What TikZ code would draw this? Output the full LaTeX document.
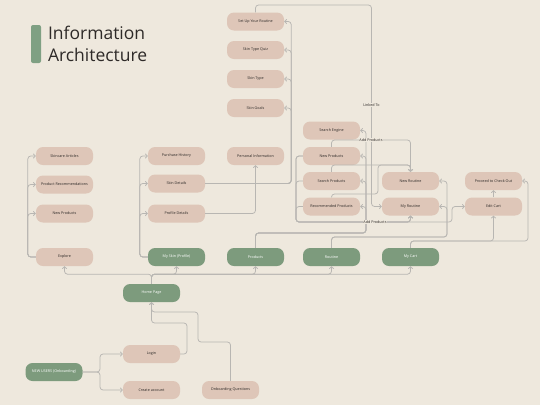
\documentclass[tikz,border=0pt]{standalone}
\usepackage{fontspec}
\setmainfont{Open Sans}
\usetikzlibrary{arrows.meta}
\definecolor{bgc}{HTML}{EEE8DD}
\definecolor{pinkc}{HTML}{DEC6B8}
\definecolor{greenc}{HTML}{7D9B7D}
\definecolor{barc}{HTML}{7FA083}
\definecolor{linec}{HTML}{B8B6B2}
\definecolor{txtc}{HTML}{2E2A28}
\tikzset{
  box/.style={rounded corners=7pt, minimum width=57pt, minimum height=18pt, inner sep=0pt,
    fill=pinkc, text=txtc, font=\fontsize{3.7}{4.4}\selectfont},
  gbox/.style={box, fill=greenc, text=white},
  conn/.style={draw=linec, line width=0.75pt, rounded corners=3pt,
    -{Straight Barb[length=2pt,width=4.5pt]}},
  lab/.style={fill=bgc, inner sep=0.8pt, text=txtc, font=\fontsize{3.7}{4.4}\selectfont},
  ttl/.style={anchor=base west, text=txtc, font=\fontsize{17.5}{22}\selectfont}
}
\begin{document}
\begin{tikzpicture}[x=1pt,y=-1pt]
\fill[bgc] (0,0) rectangle (540,405);
\useasboundingbox (0,0) rectangle (540,405);

% title
\fill[barc, rounded corners=2pt] (31,25) rectangle (41,63);
\node[ttl] (t1) at (44.5,39.5) {Information};
\node[ttl] (t2) at (44.5,61.5) {Architecture};

% column 1
\node[box] (SA) at (64.5,156) {Skincare Articles};
\node[box] (PR) at (64.5,184.5) {Product Recommendations};
\node[box] (NPa) at (64.5,213.5) {New Products};
\node[box] (EX) at (64.5,257) {Explore};
% column 2
\node[box] (PH) at (176.5,156) {Purchase History};
\node[box] (SD) at (176.5,183.5) {Skin Details};
\node[box] (PD) at (176.5,213.5) {Profile Details};
\node[gbox] (MS) at (176.5,257) {My Skin (Profile)};
% column 3
\node[box] (SU) at (255.5,21.5) {Set Up Your Routine};
\node[box] (SQ) at (255.5,50) {Skin Type Quiz};
\node[box] (ST) at (255.5,79) {Skin Type};
\node[box] (SG) at (255.5,108) {Skin Goals};
\node[box] (PI) at (255.5,156) {Personal Information};
\node[gbox] (PRO) at (255.5,257) {Products};
% column 4
\node[box] (SE) at (331.5,130.5) {Search Engine};
\node[box] (NPb) at (331.5,156) {New Products};
\node[box] (SP) at (331.5,181) {Search Products};
\node[box] (RP) at (331.5,206.5) {Recommended Products};
\node[gbox] (RT) at (331.5,257) {Routine};
% column 5
\node[box] (NR) at (410.5,181) {New Routine};
\node[box] (MR) at (410.5,206.5) {My Routine};
\node[gbox] (MC) at (410.5,257) {My Cart};
% column 6
\node[box] (PC) at (493.5,181) {Proceed to Check Out};
\node[box] (EC) at (493.5,206.5) {Edit Cart};
% bottom
\node[gbox] (HP) at (151.5,293) {Home Page};
\node[box] (LG) at (151.5,354) {Login};
\node[box] (CA) at (151.5,390) {Create account};
\node[gbox] (NU) at (54,372) {NEW USERS (Onboarding)};
\node[box] (OQ) at (230.5,390) {Onboarding Questions};

% Explore branches
\foreach \t in {SA,PR,NPa} \draw[conn] (EX.west) -| ([xshift=-8pt]\t.west) -- (\t.west);
% My Skin branches
\foreach \t in {PH,SD,PD} \draw[conn] (MS.west) -| ([xshift=-8pt]\t.west) -- (\t.west);
% Skin Details -> top column
\foreach \t in {SU,SQ,ST,SG} \draw[conn] (SD.east) -| ([xshift=7pt]\t.east) -- (\t.east);
% Profile Details -> Personal Information
\draw[conn] (PD.east) -| (PI.south);
% Products -> column 4 right sides
\foreach \t in {SE,NPb,SP,RP} \draw[conn] (PRO.north) |- (366,233) |- (\t.east);
% Linked To
\draw[conn] (SU.north) |- (371.5,5) |- (MR.west);
\node[lab] (lk) at (371.5,105) {Linked To};
% Add Products (top) -> New Routine
\draw[conn] (NPb.north) |- (410.5,140) -- (NR.north);
\draw[conn] (SP.north) |- (410.5,165) -- (NR.north);
\draw[conn] (RP.north) |- (378,194) |- (410.5,165) -- (NR.north);
\node[lab] (ap1) at (371,140) {Add Products};
% Add Products (bottom) -> My Routine, Edit Cart
\foreach \t in {NPb,SP,RP} \draw[conn] (\t.west) -| (296,222) -| (MR.south);
\draw[conn] (NPb.west) -| (296,222) -- (452,222) |- (EC.west);
\node[lab] (ap2) at (375,222) {Add Products};
% Routine -> New Routine, My Routine
\foreach \t in {NR,MR} \draw[conn] (RT.north) |- (447,237) |- (\t.east);
% My Cart -> Edit Cart, Proceed
\draw[conn] (MC.north) |- (493.5,241) -- (EC.south);
\draw[conn] (MC.north) |- (528,241) |- (PC.east);
\draw[conn] (EC.north) -- (PC.south);
% Home Page -> main sections
\foreach \t in {EX,MS,PRO,RT,MC} \draw[conn] (HP.north) |- ([yshift=-8pt]\t.south) -- (\t.south);
% New users
\draw[conn] (NU.east) -| (100,354) -- (LG.west);
\draw[conn] (NU.east) -| (100,390) -- (CA.west);
% Login -> Home
\draw[conn] (LG.east) -| (187,323) -| (HP.south);
% Onboarding -> Home
\draw[conn] (OQ.north) |- (198,342) |- (151.5,312) -- (HP.south);
\end{tikzpicture}
\end{document}
